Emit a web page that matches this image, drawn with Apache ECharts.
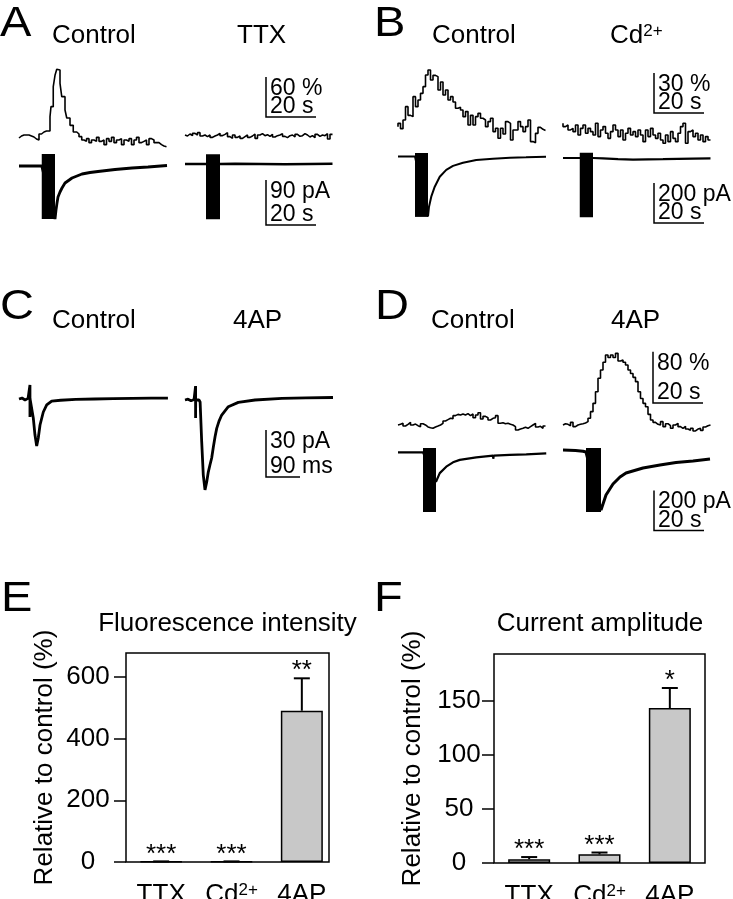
<!DOCTYPE html>
<html><head><meta charset="utf-8">
<script src="https://cdn.jsdelivr.net/npm/echarts@6/dist/echarts.min.js"></script>
<style>html,body{margin:0;padding:0;background:#fff}#c{width:733px;height:899px}</style>
</head><body><div id="c"></div>
<script>
// ================= DATA =================
// Panel A (fluorescence in %, current in pA, time in s)
const aCtrlFluo = [[0,3],[1,6],[2,7.5],[4,7.5],[5,6],[6,4.5],[7,1.5],[8,0],[9,9],[10,12],[11,13.5],[12.4,13.5],[12.8,35],[13.7,50],[14.4,80],[15.1,97],[15.7,106],[16.4,105],[17.1,85],[18.4,65],[19.1,45],[20.4,33],[21.7,22],[23.1,12],[24,9],[25.1,5],[26,0],[27,-2],[28,2],[29,-4],[30,0],[31,-2],[32,4],[33,-2],[34,0],[35,-7],[36,2],[37,-2],[38,4],[39,-4],[40,0],[41,2],[42,-7],[43,0],[44,-2],[45,2],[46,-7],[47,0],[48,4],[49,-4],[50,-2],[51,0],[52,-7],[53,2],[54,0],[55,-4],[56,-4],[57,-7],[58,-9],[59,-10]];
const aTtxFluo = [0,-1.5,1.5,-1,2.5,0,3.5,-1.5,0,-2.5,0,-3.5,-1.5,0,2.5,-1,1,3.5,-2.5,-5,0,-3.5,-1.5,-5,-2.5,0,-3.5,-1.5,1.5,-5,0,2,-1,0.5,-2,1,-3,-1,0,2,-2,-4,-1,0,-3,1,-2,-1,2,0,-3,-1,-4,1,-2,0,-1,2,-6,1];
const aCtrlCur = [[0,0],[9.1,0],[14.4,-106],[14.8,-88],[15.2,-74],[15.6,-62],[16.4,-52],[17.2,-44],[18.4,-34],[19.2,-30],[21.2,-24],[23.2,-20],[25.2,-16],[28.4,-13],[31.6,-11],[38.4,-7],[45.2,-4],[51.6,-2],[59.2,1]];
const aTtxCur = [[0,0],[8.4,0],[14,0],[20,0.5],[30,0],[40,-0.5],[50,0],[59,0.5]];
const aCtrlStim = [9.1, 14.4, 24, -106];
const aTtxStim = [8.4, 14, 19.4, -110.6];
// Panel B
const bCtrlFluo = [14.5,17,13,19.5,29.5,23,22,37,29.5,34.5,39.5,44.5,53.3,57,49.5,53,52,42,48,38.3,42,34.5,37,33,28.3,29,27,22,25.8,15.8,23,15.8,22,24.5,20.8,19.5,14.5,18.3,20.8,10.8,13.3,5.8,13.3,9,18.3,17,4.5,12,12,18.3,14.5,10.8,14.5,19.5,3.3,2.5,9.5,14,12.5,11.7];
const bCdFluo = [16.3,13.8,15,11.3,12.5,10,15,7.5,12.5,15,8.8,12.5,10,7.5,16.3,6.3,11.3,13.8,8.8,5,10,15,11.3,6.3,11.3,3.8,8.8,12.5,7.5,10,6.3,11.3,7.5,2.5,11.3,6.3,12.5,7.5,5,8.8,3.8,1.3,7.5,2.5,10,5,2.5,8.8,13.8,16.3,1.3,10,11.3,6.3,8.8,3.8,7.5,2.5,6.3,3.8];
const bCtrlCur = [[0,0],[6.8,0],[12,-300],[12.4,-251],[13.3,-201],[14.7,-151],[16.7,-101],[19.3,-67],[22,-47],[26,-31],[31.3,-17.5],[38,-11],[44.8,-6],[51.2,-4],[59.2,-1]];
const bCdCur = [[0,0],[6.8,0],[12,0],[16,-2],[22,-6],[28,-8],[34,-7],[40,-6],[46,-4],[52,-3],[59,-2]];
const bCtrlStim = [6.8, 12, 17.5, -302];
const bCdStim = [6.7, 12, 26, -296];
// Panel C (time in ms, current in pA)
const cCtrlCur = [[0,0],[8,0.6],[16,-0.6],[24,0.4],[29,0],[29,8.9],[29,-11.5],[29.3,0],[33.6,-0.6],[37.8,-12.1],[42.3,-23],[46.8,-30],[51,-24.9],[55.6,-16.6],[64.3,-8.3],[73.3,-3.8],[86.5,-1.3],[110,-0.8],[150,-0.3],[200,0],[250,0.2],[300,0.4],[350,0.5],[394,0.6]];
const cApCur = [[0,0],[8,0.5],[16,-0.5],[24,0.3],[28,0],[28,8.9],[28,-11.5],[28.3,0],[37,0],[40,-1.3],[44.2,-26.8],[48.4,-47.9],[52.9,-57.4],[57.4,-52.3],[61.6,-46],[66,-41.5],[70.6,-37],[75,-30],[79.5,-23.5],[83.9,-18.1],[90,-13.5],[97.1,-9.6],[114.6,-4.3],[141,-1.5],[185.2,0],[256.6,1],[320,1.3],[391.5,1.6]];
// Panel D
const dCtrlFluo = [1.6,2.6,4.2,0,2.6,5.7,1.6,3,0.5,-1,3.6,1.6,-1.5,-2.6,-3.6,-1.5,0,1.6,4.2,7.8,9.9,12,11.5,16.2,18.2,17.2,18.8,17.2,19.3,16.2,18.8,13,17.2,20.8,11,15.1,13,9.4,12,13,16.2,4.2,5.2,3.6,4.2,2.6,1.6,-1,-6.2,-4.7,-3.6,-2,-3.6,-1,1.6,4.2,-1.5,-0.5,-3.6,0];
const dApFluo = [1.6,3.6,2.6,0.5,5.7,-1,1.6,2.6,3.6,4.7,6.8,12,22.4,35.4,53.6,74.5,87.5,99.5,111,107,111,107,113.5,101.5,103,99.5,95.3,87.5,82,76,69.3,53.6,43,35.4,30,18.2,9.4,5.7,2.6,1.6,6.8,-1,3.6,0.5,-3.6,1.6,4.2,-1,-3.6,-0.5,-4.7,-6.8,-3.6,-7.8,-4.7,-3.6,-6.8,-1.5,0.5,1.6];
const dCtrlCur = [[0,0],[10,0],[15.2,-147],[16.7,-104],[19.3,-72],[22,-50],[24.7,-38],[31.3,-25],[38,-17],[38.1,-32],[38.3,-17],[44.7,-13],[51.3,-10],[59.3,-5]];
const dApCur = [[0,10],[5,8],[8,4],[9.2,0],[15.2,-290],[17.2,-215],[20,-160],[22.8,-125],[25.2,-105],[32,-80],[38.8,-65],[45.2,-52],[52,-45],[58.8,-35]];
const dCtrlStim = [10, 15.2, 21.5, -298.5];
const dApStim = [9.2, 15.2, 20, -300];
// Scale bars: [x length, y length, x label, y label]
const aFluoScale = [20, 60, '20 s', '60 %'];
const aCurScale  = [20, 90, '20 s', '90 pA'];
const bFluoScale = [20, 30, '20 s', '30 %'];
const bCurScale  = [20, 200, '20 s', '200 pA'];
const cCurScale  = [90, 30, '90 ms', '30 pA'];
const dFluoScale = [20, 80, '20 s', '80 %'];
const dCurScale  = [20, 200, '20 s', '200 pA'];
// Panels E, F
const cats = ['TTX', 'Cd2+', '4AP'];
const eMeans = [1.5, 1.5, 490];
const eSems  = [0.5, 0.5, 105];
const eStars = ['***', '***', '**'];
const eTicks = [0, 200, 400, 600];
const fMeans = [3.5, 8, 143.5];
const fSems  = [2, 1.7, 18.5];
const fStars = ['***', '***', '*'];
const fTicks = [0, 50, 100, 150];
const fluoStep = 1; // s between fluorescence samples

// ================= CHART =================
const FF = '"Liberation Sans", Arial, Helvetica, sans-serif';
const font = s => s + 'px ' + FF;
const grids = [], xAxes = [], yAxes = [], series = [];
function addGrid(left, zeroY, xPx, yPx, xr, yr) {
  const i = grids.length;
  grids.push({left: left, top: zeroY - yr[1] * yPx, width: (xr[1] - xr[0]) * xPx, height: (yr[1] - yr[0]) * yPx,
    containLabel: false, outerBoundsMode: 'none'});
  xAxes.push({type: 'value', gridIndex: i, min: xr[0], max: xr[1], show: false});
  yAxes.push({type: 'value', gridIndex: i, min: yr[0], max: yr[1], show: false});
  return i;
}
const sampled = arr => arr.map((v, i) => [i * fluoStep, v]);
function trace(gi, data, width, step) {
  series.push({type: 'line', xAxisIndex: gi, yAxisIndex: gi, data: data, symbol: 'none', showSymbol: false,
    step: step || false, clip: false, silent: true, lineStyle: {color: '#000', width: width}});
}
function stim(gi, s) {
  series.push({type: 'custom', xAxisIndex: gi, yAxisIndex: gi, data: [s], clip: false, silent: true,
    renderItem(p, api) {
      const p0 = api.coord([api.value(0), api.value(2)]);
      const p1 = api.coord([api.value(1), api.value(3)]);
      return {type: 'rect', shape: {x: p0[0], y: p0[1], width: p1[0] - p0[0], height: p1[1] - p0[1]}, style: {fill: '#000'}};
    }});
}
function scaleBar(gi, anchor, sb) {
  series.push({type: 'custom', xAxisIndex: gi, yAxisIndex: gi, data: [[anchor[0], anchor[1], sb[0], sb[1]]], clip: false, silent: true,
    renderItem(p, api) {
      const x0 = api.value(0), y0 = api.value(1), dx = api.value(2), dy = api.value(3);
      const pB = api.coord([x0, y0]), pT = api.coord([x0, y0 + dy]), pR = api.coord([x0 + dx, y0]);
      return {type: 'group', children: [
        {type: 'polyline', shape: {points: [pT, pB, pR]}, style: {stroke: '#000', lineWidth: 1.5, fill: 'none'}},
        {type: 'text', x: pB[0] + 4, y: pT[1] + 11.5, style: {text: sb[3], font: font(23), fill: '#000', align: 'left', verticalAlign: 'middle'}},
        {type: 'text', x: pB[0] + 4, y: pB[1] - 10, style: {text: sb[2], font: font(23), fill: '#000', align: 'left', verticalAlign: 'middle'}}
      ]};
    }});
}

// Panel A
let g;
g = addGrid(19, 140, 2.5, 2/3, [0, 60], [-20, 112]); trace(g, aCtrlFluo, 1.6, 'start');
g = addGrid(185, 135, 2.5, 2/3, [0, 60], [-20, 95]); trace(g, sampled(aTtxFluo), 1.6, 'start'); scaleBar(g, [32.4, 27], aFluoScale);
g = addGrid(19, 166, 2.5, 0.5, [0, 60], [-120, 30]); trace(g, aCtrlCur, 2.8); stim(g, aCtrlStim);
g = addGrid(185, 164, 2.5, 0.5, [0, 60], [-130, 30]); trace(g, aTtxCur, 2.5); stim(g, aTtxStim); scaleBar(g, [32.4, -122], aCurScale);
// Panel B
g = addGrid(398, 146, 2.5, 4/3, [0, 60], [-5, 62]); trace(g, sampled(bCtrlFluo), 1.6, 'start');
g = addGrid(563, 145, 2.5, 4/3, [0, 60], [-5, 60]); trace(g, sampled(bCdFluo), 1.6, 'start'); scaleBar(g, [36.4, 24], bFluoScale);
g = addGrid(398, 156.5, 2.5, 0.2, [0, 60], [-310, 30]); trace(g, bCtrlCur, 2); stim(g, bCtrlStim);
g = addGrid(563, 158, 2.5, 0.2, [0, 60], [-330, 30]); trace(g, bCdCur, 2.2); stim(g, bCdStim); scaleBar(g, [36.4, -325], bCurScale);
// Panel C
g = addGrid(19, 399, 0.378, 1.567, [0, 400], [-35, 12]); trace(g, cCtrlCur, 2.8);
g = addGrid(185, 400, 0.378, 1.567, [0, 400], [-80, 12]); trace(g, cApCur, 2.8); scaleBar(g, [214.3, -49.1], cCurScale);
// Panel D
g = addGrid(398, 426, 2.5, 0.64, [0, 60], [-20, 40]); trace(g, sampled(dCtrlFluo), 1.6, 'start');
g = addGrid(563, 426, 2.5, 0.64, [0, 60], [-20, 130]); trace(g, sampled(dApFluo), 1.6, 'start'); scaleBar(g, [36, 36], dFluoScale);
g = addGrid(398, 452.3, 2.5, 0.2, [0, 60], [-310, 30]); trace(g, dCtrlCur, 2.2); stim(g, dCtrlStim);
g = addGrid(563, 452, 2.5, 0.2, [0, 60], [-420, 30]); trace(g, dApCur, 3); stim(g, dApStim); scaleBar(g, [36.4, -393], dCurScale);

// Bar panels
const catRich = {
  m: {fontSize: 26, fontFamily: FF, color: '#000'},
  s: {fontSize: 17, fontFamily: FF, color: '#000', verticalAlign: 'top', lineHeight: 17}
};
const catFmt = v => v === 'Cd2+' ? '{m|Cd}{s|2+}' : '{m|' + v + '}';
function barPanel(rect, frameW, max, ticks, means, sems, stars, labelMargin) {
  const i = grids.length;
  grids.push({left: rect[0], top: rect[1], width: rect[2], height: rect[3], containLabel: false, outerBoundsMode: 'none',
    show: frameW === rect[2], borderColor: '#000', borderWidth: 1.5, backgroundColor: 'transparent'});
  xAxes.push({type: 'category', gridIndex: i, data: cats, axisLine: {show: false}, axisTick: {show: false},
    axisLabel: {interval: 0, formatter: catFmt, rich: catRich, margin: 20, color: '#000', fontSize: 26, fontFamily: FF}});
  yAxes.push({type: 'value', gridIndex: i, min: 0, max: max, splitLine: {show: false}, axisLine: {show: false},
    axisTick: {show: true, length: 12, lineStyle: {color: '#000', width: 1.5}, customValues: ticks},
    axisLabel: {customValues: ticks, color: '#000', fontSize: 26, fontFamily: FF, align: 'center', margin: labelMargin},
    name: 'Relative to control (%)', nameLocation: 'middle', nameGap: 68,
    nameTextStyle: {fontSize: 26, fontFamily: FF, color: '#000'}});
  if (frameW !== rect[2]) {
    const j = grids.length;
    grids.push({left: rect[0], top: rect[1], width: frameW, height: rect[3], show: true, containLabel: false, outerBoundsMode: 'none',
      borderColor: '#000', borderWidth: 1.5, backgroundColor: 'transparent'});
    xAxes.push({type: 'value', gridIndex: j, min: 0, max: 1, show: false});
    yAxes.push({type: 'value', gridIndex: j, min: 0, max: 1, show: false});
  }
  series.push({type: 'bar', xAxisIndex: i, yAxisIndex: i, data: means, barWidth: 42, silent: true,
    itemStyle: {color: '#c8c8c8', borderColor: '#000', borderWidth: 1.5}});
  series.push({type: 'custom', xAxisIndex: i, yAxisIndex: i, clip: false, silent: true, z: 5,
    data: means.map((m, k) => [k, m, sems[k]]),
    renderItem(p, api) {
      const x = api.value(0), m = api.value(1), s = api.value(2);
      const pm = api.coord([x, m]), pt = api.coord([x, m + s]);
      return {type: 'group', children: [
        {type: 'line', shape: {x1: pm[0], y1: pm[1], x2: pt[0], y2: pt[1]}, style: {stroke: '#000', lineWidth: 2}},
        {type: 'line', shape: {x1: pt[0] - 8, y1: pt[1], x2: pt[0] + 8, y2: pt[1]}, style: {stroke: '#000', lineWidth: 2}},
        {type: 'text', x: pt[0], y: pt[1] - 7, style: {text: stars[p.dataIndex], font: font(26), fill: '#000', align: 'center', verticalAlign: 'middle'}}
      ]};
    }});
}
barPanel([126, 653, 211, 209], 203, 677, eTicks, eMeans, eSems, eStars, 38);
barPanel([494, 654, 211, 209], 211, 193.5, fTicks, fMeans, fSems, fStars, 35);

// Headings
const supRich = {m: {fontSize: 26, fontFamily: FF, fill: '#000'}, s: {fontSize: 17, fontFamily: FF, fill: '#000', verticalAlign: 'top', lineHeight: 17}};
const T = (x, y, text, size, align) => ({type: 'text', x: x, y: y, silent: true,
  style: {text: text, font: font(size), fill: '#000', align: align || 'left', verticalAlign: 'middle'}});
const L = (x, y, text) => Object.assign(T(x, y, text, 42), {scaleX: 1.12});
const graphic = [
  L(0, 24, 'A'), T(52, 35.5, 'Control', 26), T(237, 35.5, 'TTX', 26),
  L(374, 24, 'B'), T(432, 35.5, 'Control', 26),
  {type: 'text', x: 610, y: 35.5, silent: true, style: {text: '{m|Cd}{s|2+}', rich: supRich, align: 'left', verticalAlign: 'middle'}},
  L(0, 307, 'C'), T(52, 320.5, 'Control', 26), T(233, 320.5, '4AP', 26),
  L(375, 307, 'D'), T(431, 320.5, 'Control', 26), T(611, 320.5, '4AP', 26),
  L(1, 599, 'E'), T(227.5, 624, 'Fluorescence intensity', 26, 'center'),
  L(374, 599, 'F'), T(600, 624, 'Current amplitude', 26, 'center')
];

const chart = echarts.init(document.getElementById('c'), null, {renderer: 'canvas'});
chart.setOption({animation: false, backgroundColor: '#fff', textStyle: {fontFamily: FF},
  grid: grids, xAxis: xAxes, yAxis: yAxes, series: series, graphic: graphic});
</script></body></html>
